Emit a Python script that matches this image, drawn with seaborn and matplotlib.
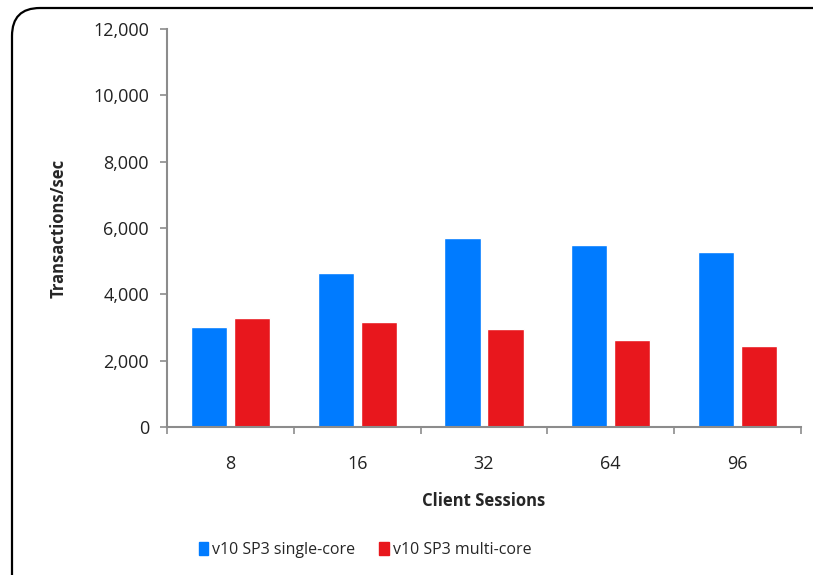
import pandas as pd
import matplotlib
matplotlib.use("Agg")
import matplotlib.pyplot as plt
import seaborn as sns
from matplotlib.patches import FancyBboxPatch
from matplotlib.ticker import FuncFormatter, FixedLocator

# Data
sessions = ["8", "16", "32", "64", "96"]
single_core = [3020, 4650, 5700, 5500, 5280]
multi_core = [3280, 3160, 2940, 2630, 2440]
series_names = ["v10 SP3 single-core", "v10 SP3 multi-core"]
colors = ["#007BFF", "#E8171D"]

df = pd.DataFrame({
    "Client Sessions": sessions * 2,
    "Transactions/sec": single_core + multi_core,
    "Series": [series_names[0]] * len(sessions) + [series_names[1]] * len(sessions),
})

sns.set_style("white")
plt.rcParams["font.family"] = ["Open Sans", "DejaVu Sans"]

fig = plt.figure(figsize=(8.13, 5.75), dpi=100)
ax = fig.add_axes([0.2054, 0.2574, 0.7798, 0.6922])

# rounded frame, cut off at the right and bottom edges like the screenshot
frame = FancyBboxPatch((0.12, -0.3), 9.0, 5.97, boxstyle="round,pad=0,rounding_size=0.28",
                       transform=fig.dpi_scale_trans, fill=False, edgecolor="black",
                       linewidth=1.6)
fig.patches.append(frame)

sns.barplot(data=df, x="Client Sessions", y="Transactions/sec", hue="Series",
            palette=colors, saturation=1, width=0.68, gap=0.16, ax=ax, legend=False)

ax.set_ylim(0, 12000)
ax.set_xlim(-0.5, len(sessions) - 0.5)
ax.set_yticks(range(0, 12001, 2000))
ax.yaxis.set_major_formatter(FuncFormatter(lambda v, p: f"{int(v):,}"))
ax.xaxis.set_minor_locator(FixedLocator([i - 0.5 for i in range(len(sessions) + 1)]))

for side in ["top", "right"]:
    ax.spines[side].set_visible(False)
for side in ["left", "bottom"]:
    ax.spines[side].set_color("#8c8c8c")
    ax.spines[side].set_linewidth(1.5)

ax.tick_params(axis="y", which="major", direction="out", length=5, width=1.2,
               color="#8c8c8c", labelsize=13, labelcolor="#222222", pad=8, left=True)
ax.tick_params(axis="x", which="major", length=0, labelsize=13, labelcolor="#222222", pad=20)
ax.tick_params(axis="x", which="minor", direction="out", length=5, width=1.2,
               color="#8c8c8c", bottom=True)

ax.set_xlabel("Client Sessions", fontsize=12, fontweight="bold", labelpad=14)
ax.set_ylabel("Transactions/sec", fontsize=12, fontweight="bold", labelpad=18)

handles = [plt.Rectangle((0, 0), 1, 1, color=c) for c in colors]
fig.legend(handles, series_names, loc="center", bbox_to_anchor=(0.449, 0.043), ncol=2,
           frameon=False, fontsize=11.5, handlelength=0.6, handleheight=0.9,
           handletextpad=0.25, columnspacing=1.5)

fig.savefig("out.png", dpi=100)
